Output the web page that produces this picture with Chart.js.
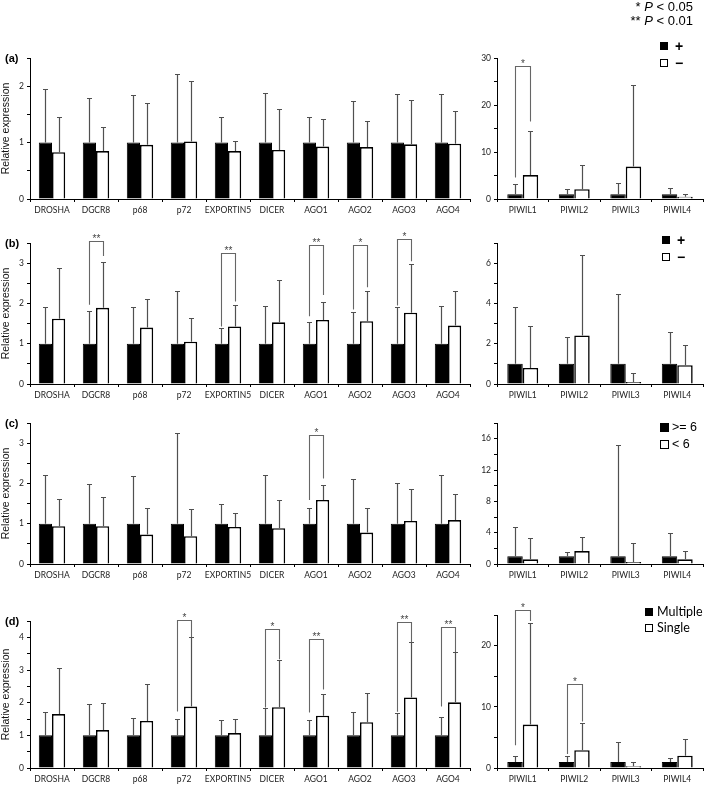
<!DOCTYPE html>
<html>
<head>
<meta charset="utf-8">
<script src="https://cdn.jsdelivr.net/npm/chart.js@4.4.1/dist/chart.umd.min.js"></script>
<style>
body{margin:0;background:#fff;width:707px;height:785px;position:relative;overflow:hidden;font-family:"Liberation Sans",Arial,sans-serif}
canvas{position:absolute}
.t{position:absolute;white-space:nowrap;line-height:1}
.sq{position:absolute;width:8px;height:8px;box-sizing:border-box}
.blk{background:#000}
.wht{background:#fff;border:1.6px solid #000}
</style>
</head>
<body>
<div id="wrap"></div>
<script>
// categories
var genes = ['DROSHA', 'DGCR8', 'p68', 'p72', 'EXPORTIN5', 'DICER', 'AGO1', 'AGO2', 'AGO3', 'AGO4'];
var piwils = ['PIWIL1', 'PIWIL2', 'PIWIL3', 'PIWIL4'];

// reference group (black bars) is always 1
var refGenes = [1, 1, 1, 1, 1, 1, 1, 1, 1, 1];
var refPiwil = [1, 1, 1, 1];

// (a)
var aWhite = [0.83, 0.85, 0.96, 1.02, 0.85, 0.87, 0.93, 0.92, 0.97, 0.98];
var aBlackErr = [1.95, 1.79, 1.85, 2.22, 1.45, 1.88, 1.45, 1.73, 1.86, 1.86];
var aWhiteErr = [1.45, 1.28, 1.71, 2.09, 1.03, 1.59, 1.42, 1.38, 1.76, 1.56];
var aPiwiWhite = [5.1, 2.1, 6.9, 0.5];
var aPiwiBlackErr = [3.2, 2.1, 3.5, 2.3];
var aPiwiWhiteErr = [14.4, 7.2, 24.2, 1.1];
var aSig = [];
var aPiwiSig = [[0, '*', 28.3, 4.6, 16.5]];
var aLegend = ['+', '\u2212'];

// (b)
var bWhite = [1.62, 1.89, 1.40, 1.05, 1.43, 1.53, 1.59, 1.56, 1.77, 1.45];
var bBlackErr = [1.91, 1.82, 1.91, 2.31, 1.39, 1.93, 1.53, 1.78, 1.91, 1.93];
var bWhiteErr = [2.87, 3.04, 2.11, 1.64, 1.95, 2.59, 2.03, 2.32, 2.98, 2.32];
var bPiwiWhite = [0.8, 2.41, 0.1, 0.93];
var bPiwiBlackErr = [3.82, 2.33, 4.46, 2.58];
var bPiwiWhiteErr = [2.86, 6.38, 0.55, 1.92];
var bSig = [[1, '**', 3.54, 1.97, 3.18], [4, '**', 3.26, 1.43, 2.05], [6, '**', 3.45, 1.68, 2.21], [7, '*', 3.45, 1.85, 2.4], [8, '*', 3.6, 1.95, 3.05]];
var bPiwiSig = [];
var bLegend = ['+', '\u2212'];

// (c)
var cWhite = [0.94, 0.94, 0.73, 0.69, 0.92, 0.89, 1.59, 0.78, 1.07, 1.09];
var cBlackErr = [2.21, 1.98, 2.18, 3.24, 1.50, 2.22, 1.40, 2.12, 2.0, 2.21];
var cWhiteErr = [1.61, 1.67, 1.38, 1.36, 1.27, 1.60, 1.95, 1.40, 1.86, 1.73];
var cPiwiWhite = [0.6, 1.65, 0.25, 0.6];
var cPiwiBlackErr = [4.75, 1.5, 15.2, 3.9];
var cPiwiWhiteErr = [3.27, 3.48, 2.72, 1.65];
var cSig = [[6, '*', 3.2, 1.59, 2.12]];
var cPiwiSig = [];
var cLegend = ['>= 6', '< 6'];

// (d)
var dWhite = [1.65, 1.16, 1.44, 1.88, 1.07, 1.86, 1.6, 1.4, 2.16, 2.01];
var dBlackErr = [1.7, 1.95, 1.53, 1.5, 1.46, 1.83, 1.48, 1.7, 1.68, 1.55];
var dWhiteErr = [3.05, 2.0, 2.57, 4.0, 1.5, 3.32, 2.27, 2.3, 3.85, 3.55];
var dPiwiWhite = [7.1, 2.9, 0.3, 2.0];
var dPiwiBlackErr = [2.0, 2.0, 4.2, 1.6];
var dPiwiWhiteErr = [23.7, 7.4, 0.9, 4.8];
var dSig = [[3, '*', 4.53, 1.73, 4.0], [5, '*', 4.26, 1.85, 3.33], [6, '**', 3.94, 1.7, 2.4], [8, '**', 4.47, 1.72, 3.85], [9, '**', 4.31, 1.88, 3.55]];
var dPiwiSig = [[0, '*', 25.8, 3.7, 24.0], [1, '*', 13.8, 2.3, 7.6]];
var dLegend = ['Multiple', 'Single'];

// axis ranges
var leftMax = [2.5, 3.5, 3.5, 4.5];
var rightMax = [30, 7, 18, 25];
var rightMinor = [5, 1, 2, 5];
var rightMajor = [10, 2, 4, 10];


var wrap = document.getElementById('wrap');

function extras(errs, sig) {
    return {
        id: 'extras',
        afterDatasetsDraw: function (chart) {
            var ctx = chart.ctx;
            var y = chart.scales.y;
            ctx.save();
            // error bars (upper only)
            errs.forEach(function (arr, di) {
                var meta = chart.getDatasetMeta(di);
                meta.data.forEach(function (el, j) {
                    var x = Math.round(el.x) + 0.5;
                    var yt = Math.round(y.getPixelForValue(arr[j])) + 0.5;
                    ctx.strokeStyle = '#505050';
                    ctx.lineWidth = 1.2;
                    ctx.beginPath();
                    ctx.moveTo(x, el.y);
                    ctx.lineTo(x, yt);
                    ctx.moveTo(x - 2.5, yt);
                    ctx.lineTo(x + 2.5, yt);
                    ctx.stroke();
                });
            });
            // significance brackets
            sig.forEach(function (s) {
                var xl = Math.round(chart.getDatasetMeta(0).data[s[0]].x) + 0.5;
                var xr = Math.round(chart.getDatasetMeta(1).data[s[0]].x) + 0.5;
                var yt = Math.round(y.getPixelForValue(s[2])) + 0.5;
                ctx.strokeStyle = '#666';
                ctx.lineWidth = 1.1;
                ctx.beginPath();
                ctx.moveTo(xl, y.getPixelForValue(s[3]));
                ctx.lineTo(xl, yt);
                ctx.lineTo(xr, yt);
                ctx.lineTo(xr, y.getPixelForValue(s[4]));
                ctx.stroke();
                ctx.fillStyle = '#444';
                ctx.font = '10px "Liberation Sans", Arial';
                ctx.textAlign = 'center';
                ctx.textBaseline = 'bottom';
                ctx.fillText(s[1], (xl + xr) / 2, yt + 3);
            });
            ctx.restore();
        }
    };
}

function panel(box, labels, black, white, blackErr, whiteErr, sig, max, minor, major, title) {
    var padTop = 20, axisH = 18;
    var cv = document.createElement('canvas');
    var w = box.right + 4 - box.left;
    var h = padTop + (box.zero - box.top) + axisH;
    cv.width = w;
    cv.height = h;
    cv.style.left = box.left + 'px';
    cv.style.top = (box.top - padTop) + 'px';
    wrap.appendChild(cv);

    new Chart(cv.getContext('2d'), {
        type: 'bar',
        data: {
            labels: labels,
            datasets: [{
                data: black,
                backgroundColor: '#000',
                borderColor: '#000',
                borderWidth: 1
            }, {
                data: white,
                backgroundColor: '#fff',
                borderColor: '#000',
                borderWidth: 1.6
            }]
        },
        options: {
            responsive: false,
            animation: false,
            devicePixelRatio: 1,
            layout: { padding: { top: padTop, right: 4, left: 0, bottom: 0 } },
            datasets: { bar: { categoryPercentage: 0.6, barPercentage: 1.0 } },
            plugins: { legend: { display: false }, tooltip: { enabled: false } },
            scales: {
                x: {
                    afterFit: function (s) { s.height = axisH; },
                    border: { color: '#000', width: 1 },
                    grid: { offset: true, drawOnChartArea: false, tickLength: 3, color: '#000' },
                    ticks: {
                        autoSkip: false, maxRotation: 0, padding: 3,
                        color: '#222', font: { family: 'Lato', size: 8.5 }
                    }
                },
                y: {
                    min: 0,
                    max: max,
                    afterFit: function (s) { s.width = box.axisX - box.left; },
                    border: { color: '#000', width: 1 },
                    grid: { drawOnChartArea: false, tickLength: 3, color: '#000' },
                    title: {
                        display: title, text: 'Relative expression', padding: 0,
                        color: '#111', font: { family: '"Liberation Sans", Arial', size: 10.5 }
                    },
                    ticks: {
                        stepSize: minor, padding: 3, color: '#222',
                        font: { family: 'Lato', size: 8.5 },
                        callback: function (v) {
                            var r = v / major;
                            return Math.abs(r - Math.round(r)) < 1e-6 ? v : '';
                        }
                    }
                }
            }
        },
        plugins: [extras([blackErr, whiteErr], sig)]
    });
}

function text(str, x, y, css, right) {
    var d = document.createElement('div');
    d.className = 't';
    d.innerHTML = str;
    d.style.cssText += css;
    if (right) { d.style.right = x + 'px'; } else { d.style.left = x + 'px'; }
    d.style.top = y + 'px';
    wrap.appendChild(d);
}

function square(cls, x, y, s) {
    var d = document.createElement('div');
    d.className = 'sq ' + cls;
    d.style.left = x + 'px';
    d.style.top = y + 'px';
    if (s) { d.style.width = s + 'px'; d.style.height = s + 'px'; }
    wrap.appendChild(d);
}

// plot boxes: top / zero line in page pixels
var rowsL = [[58, 199], [243, 384], [423, 564], [621, 768]];
var rowsR = [[58, 199], [243, 384], [423, 564], [615, 768]];
var whites = [aWhite, bWhite, cWhite, dWhite];
var blackErrs = [aBlackErr, bBlackErr, cBlackErr, dBlackErr];
var whiteErrs = [aWhiteErr, bWhiteErr, cWhiteErr, dWhiteErr];
var sigs = [aSig, bSig, cSig, dSig];
var pWhites = [aPiwiWhite, bPiwiWhite, cPiwiWhite, dPiwiWhite];
var pBlackErrs = [aPiwiBlackErr, bPiwiBlackErr, cPiwiBlackErr, dPiwiBlackErr];
var pWhiteErrs = [aPiwiWhiteErr, bPiwiWhiteErr, cPiwiWhiteErr, dPiwiWhiteErr];
var pSigs = [aPiwiSig, bPiwiSig, cPiwiSig, dPiwiSig];
var letters = ['(a)', '(b)', '(c)', '(d)'];

for (var i = 0; i < 4; i++) {
    panel({ left: 0, axisX: 30, right: 470, top: rowsL[i][0], zero: rowsL[i][1] },
        genes, refGenes, whites[i], blackErrs[i], whiteErrs[i], sigs[i], leftMax[i], 0.5, 1, true);
    panel({ left: 468, axisX: 497, right: 703, top: rowsR[i][0], zero: rowsR[i][1] },
        piwils, refPiwil, pWhites[i], pBlackErrs[i], pWhiteErrs[i], pSigs[i], rightMax[i], rightMinor[i], rightMajor[i], false);
    text(letters[i], 5, rowsL[i][0] - 5, 'font-weight:bold;font-size:11px;');
}

// p-value note
text('* <i>P</i> &lt; 0.05', 14, 0, 'font-size:13px;', true);
text('** <i>P</i> &lt; 0.01', 14, 14, 'font-size:13px;', true);

// legends
var legTops = [[42, 59], [236, 253], [423, 440], [608, 624]];
var legX = [660, 662, 660, 645];
var legends = [aLegend, bLegend, cLegend, dLegend];
for (var k = 0; k < 4; k++) {
    var sz = k === 2 ? 9 : 8;
    square('blk', legX[k], legTops[k][0], sz);
    square('wht', legX[k], legTops[k][1], sz);
    var css = k < 2 ? 'font-weight:bold;font-size:14px;' :
        (k === 2 ? 'font-size:12.5px;' : 'font-family:Lato;font-size:12.5px;');
    var tx = legX[k] + (k < 2 ? 15 : 12);
    text(legends[k][0], tx, legTops[k][0] - (k < 2 ? 3 : 2), css);
    text(legends[k][1], tx, legTops[k][1] - (k < 2 ? 3 : 2), css);
}
</script>
</body>
</html>
